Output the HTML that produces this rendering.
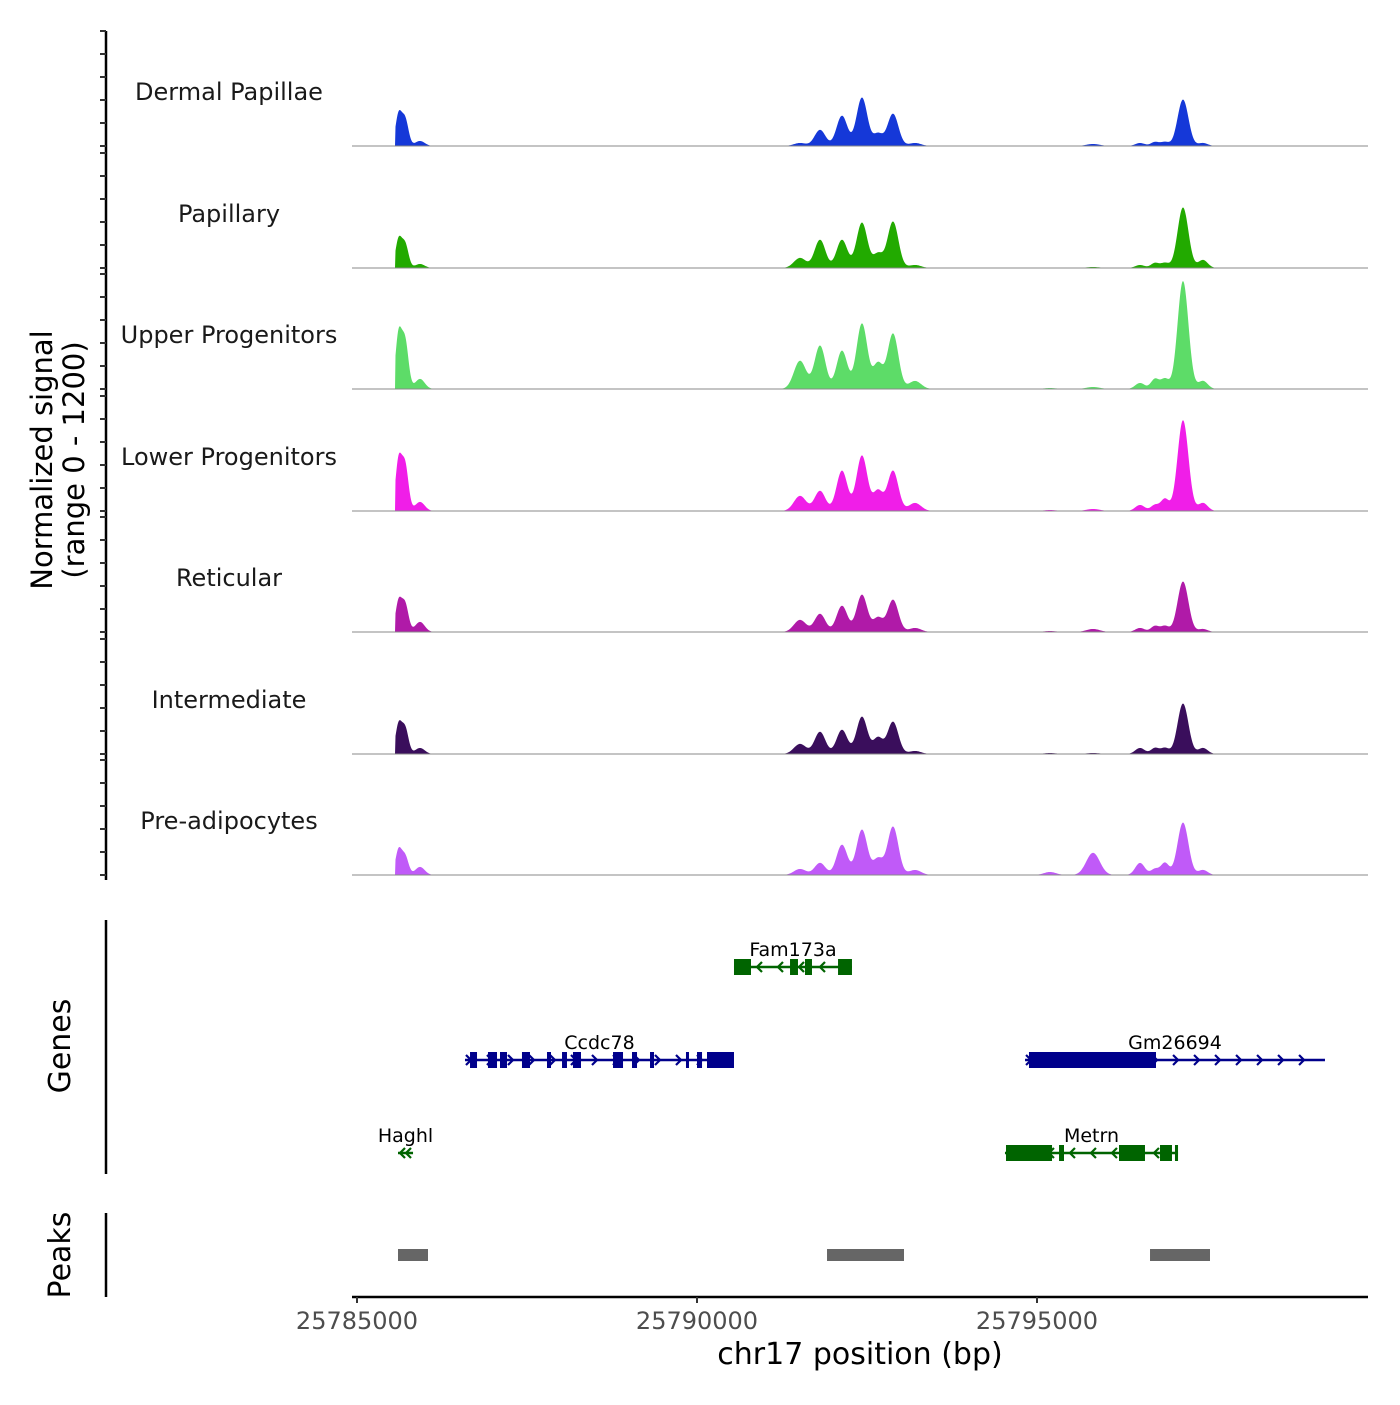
<!DOCTYPE html>
<html><head><meta charset="utf-8"><style>
body{margin:0;background:#fff}
svg text{font-family:"DejaVu Sans","Liberation Sans",sans-serif}
</style></head><body>
<svg id="c" width="1400" height="1400" xmlns="http://www.w3.org/2000/svg"></svg>
<script>
const trackNames=["Dermal Papillae","Papillary","Upper Progenitors","Lower Progenitors","Reticular","Intermediate","Pre-adipocytes"];
const trackColors=["#1538d8","#22aa00","#5ddc68","#f01ee8","#b01aa8","#3a0e5c","#c05af8"];
const peakPos=[25785610,25785706,25785926,25791515,25791809,25792132,25792426,25792662,25792882,25793206,25795191,25795824,25796515,25796735,25796882,25797147,25797441];
const peakWidth=[45,50,70,90,80,80,80,70,80,90,90,100,70,60,60,80,70];
const sigDP=[300,270,50,30,160,300,480,120,320,30,5,20,30,40,40,460,30];
const sigPap=[270,240,40,100,280,280,450,140,460,30,5,10,30,50,50,600,80];
const sigUP=[520,480,100,280,430,380,650,250,550,80,10,20,60,100,100,1070,80];
const sigLP=[480,460,90,150,200,400,550,200,400,80,10,20,60,60,120,900,80];
const sigRet=[290,280,100,120,180,260,370,140,320,40,10,30,40,60,60,500,30];
const sigInt=[280,260,60,100,220,240,370,160,320,30,10,10,60,60,60,500,60];
const sigPre=[240,190,80,60,120,300,450,160,480,50,30,220,120,60,120,520,50];
const signals=[sigDP,sigPap,sigUP,sigLP,sigRet,sigInt,sigPre];
const xTicks=[25785000,25790000,25795000];
const genes=[
 {name:"Fam173a",row:0,strand:-1,color:"#006400",start:25790544,end:25792279,exons:[[25790544,25790794],[25791368,25791485],[25791588,25791691],[25792074,25792279]]},
 {name:"Ccdc78",row:1,strand:1,color:"#00008b",start:25786588,end:25790544,exons:[[25786662,25786765],[25786926,25787059],[25787103,25787206],[25787426,25787544],[25787794,25787853],[25788015,25788088],[25788176,25788294],[25788765,25788912],[25789044,25789118],[25789309,25789368],[25789838,25789882],[25790000,25790074],[25790147,25790544]]},
 {name:"Gm26694",row:1,strand:1,color:"#00008b",start:25794824,end:25799235,exons:[[25794882,25796750]]},
 {name:"Haghl",row:2,strand:-1,color:"#006400",start:25785603,end:25785824,exons:[]},
 {name:"Metrn",row:2,strand:-1,color:"#006400",start:25794529,end:25797074,exons:[[25794544,25795221],[25795324,25795397],[25796206,25796588],[25796809,25796985],[25797029,25797074]]}
];
const peakRegions=[[25785603,25786044],[25791912,25793044],[25796662,25797544]];

const NS="http://www.w3.org/2000/svg";
const svg=document.getElementById('c');
function mk(tag,attrs,parent){const e=document.createElementNS(NS,tag);for(const k in attrs)e.setAttribute(k,attrs[k]);(parent||svg).appendChild(e);return e;}
const X0=25785000,PX0=357,SC=0.068;
const xs=bp=>PX0+(bp-X0)*SC;
const plotL=352,plotR=1368;
const baselines=[146,268,389,511,632,754,875];
const ys=(v,b)=>b-v*(121/1200);

let ya=mk('line',{x1:106,y1:31,x2:106,y2:880,stroke:'#000','stroke-width':2.5});


baselines.forEach((b,i)=>{
 for(let k=0;k<=5;k++){
  const y=b-k*23;
  const t=mk('line',{x1:100,y1:y,x2:106,y2:y,stroke:'#333','stroke-width':2});
  
  
 }
});
let yl=mk('text',{x:0,y:0,transform:'translate(52,460) rotate(-90)','text-anchor':'middle','font-size':29,fill:'#000'});


mk('tspan',{x:0,dy:0},yl).textContent='Normalized signal';
mk('tspan',{x:0,dy:32},yl).textContent='(range 0 - 1200)';

trackNames.forEach((nm,i)=>{
 const b=baselines[i],sig=signals[i];
 const g=mk('g',{});
 
 
 let d=`M${plotL},${b}`;
 for(let px=plotL;px<=plotR;px+=0.5){
  const bp=X0+(px-PX0)/SC;
  let v=0;
  if(bp>=25785560){
   for(let j=0;j<peakPos.length;j++){const z=(bp-peakPos[j])/peakWidth[j];v+=sig[j]*Math.exp(-0.5*z*z);}
  }
  d+=`L${px.toFixed(1)},${ys(v,b).toFixed(2)}`;
 }
 d+=`L${plotR},${b}Z`;
 const a=mk('path',{d,fill:trackColors[i]},g);
 
 
 const bl=mk('line',{x1:plotL,y1:b,x2:plotR,y2:b,stroke:'#888','stroke-width':1},g);
 
 
 const t=mk('text',{x:229,y:b-46,'text-anchor':'middle','font-size':24,fill:'#1a1a1a'},g);
 
 
 t.textContent=nm;
});

let gl=mk('line',{x1:106,y1:920,x2:106,y2:1174,stroke:'#000','stroke-width':2.5});


let gt=mk('text',{x:0,y:0,transform:'translate(70,1046) rotate(-90)','text-anchor':'middle','font-size':30});


gt.textContent='Genes';
const rowY=[967,1060,1153];
function chevron(g,x,y,dir,color){
 const p=mk('path',{d:`M${x-3*dir},${y-5}L${x+2*dir},${y}L${x-3*dir},${y+5}`,fill:'none',stroke:color,'stroke-width':2.2},g);
 
 
}
genes.forEach(ge=>{
 const y=rowY[ge.row];
 const g=mk('g',{});
 
 
 const x1=xs(ge.start),x2=xs(ge.end);
 const ln=mk('line',{x1,y1:y,x2,y2:y,stroke:ge.color,'stroke-width':2.5},g);
 
 
 for(let x=x1+4;x<x2-2;x+=(ge.name==='Haghl'?6:21)) chevron(g,x,y,ge.strand,ge.color);
 ge.exons.forEach(e=>{
  const ex=mk('rect',{x:xs(e[0]),y:y-8,width:Math.max(3,xs(e[1])-xs(e[0])),height:16,fill:ge.color},g);
  
  
 });
 const lab=mk('text',{x:(x1+x2)/2,y:y-11,'text-anchor':'middle','font-size':19,fill:'#000'},g);
 
 
 lab.textContent=ge.name;
});

let pl=mk('line',{x1:106,y1:1213,x2:106,y2:1297,stroke:'#000','stroke-width':2.5});


let pt=mk('text',{x:0,y:0,transform:'translate(70,1255) rotate(-90)','text-anchor':'middle','font-size':30});


pt.textContent='Peaks';
peakRegions.forEach(r=>{
 const rc=mk('rect',{x:xs(r[0]),y:1249,width:xs(r[1])-xs(r[0]),height:12,fill:'#666'});
 
 
});

let xa=mk('line',{x1:plotL,y1:1297,x2:plotR,y2:1297,stroke:'#000','stroke-width':2.5});


xTicks.forEach(v=>{
 const x=xs(v);
 const t=mk('line',{x1:x,y1:1297,x2:x,y2:1303,stroke:'#333','stroke-width':2});
 
 
 const l=mk('text',{x,y:1329,'text-anchor':'middle','font-size':24,fill:'#4d4d4d'});
 
 
 l.textContent=v;
});
let xt=mk('text',{x:860,y:1364,'text-anchor':'middle','font-size':30,fill:'#000'});


xt.textContent='chr17 position (bp)';
</script>
</body></html>
